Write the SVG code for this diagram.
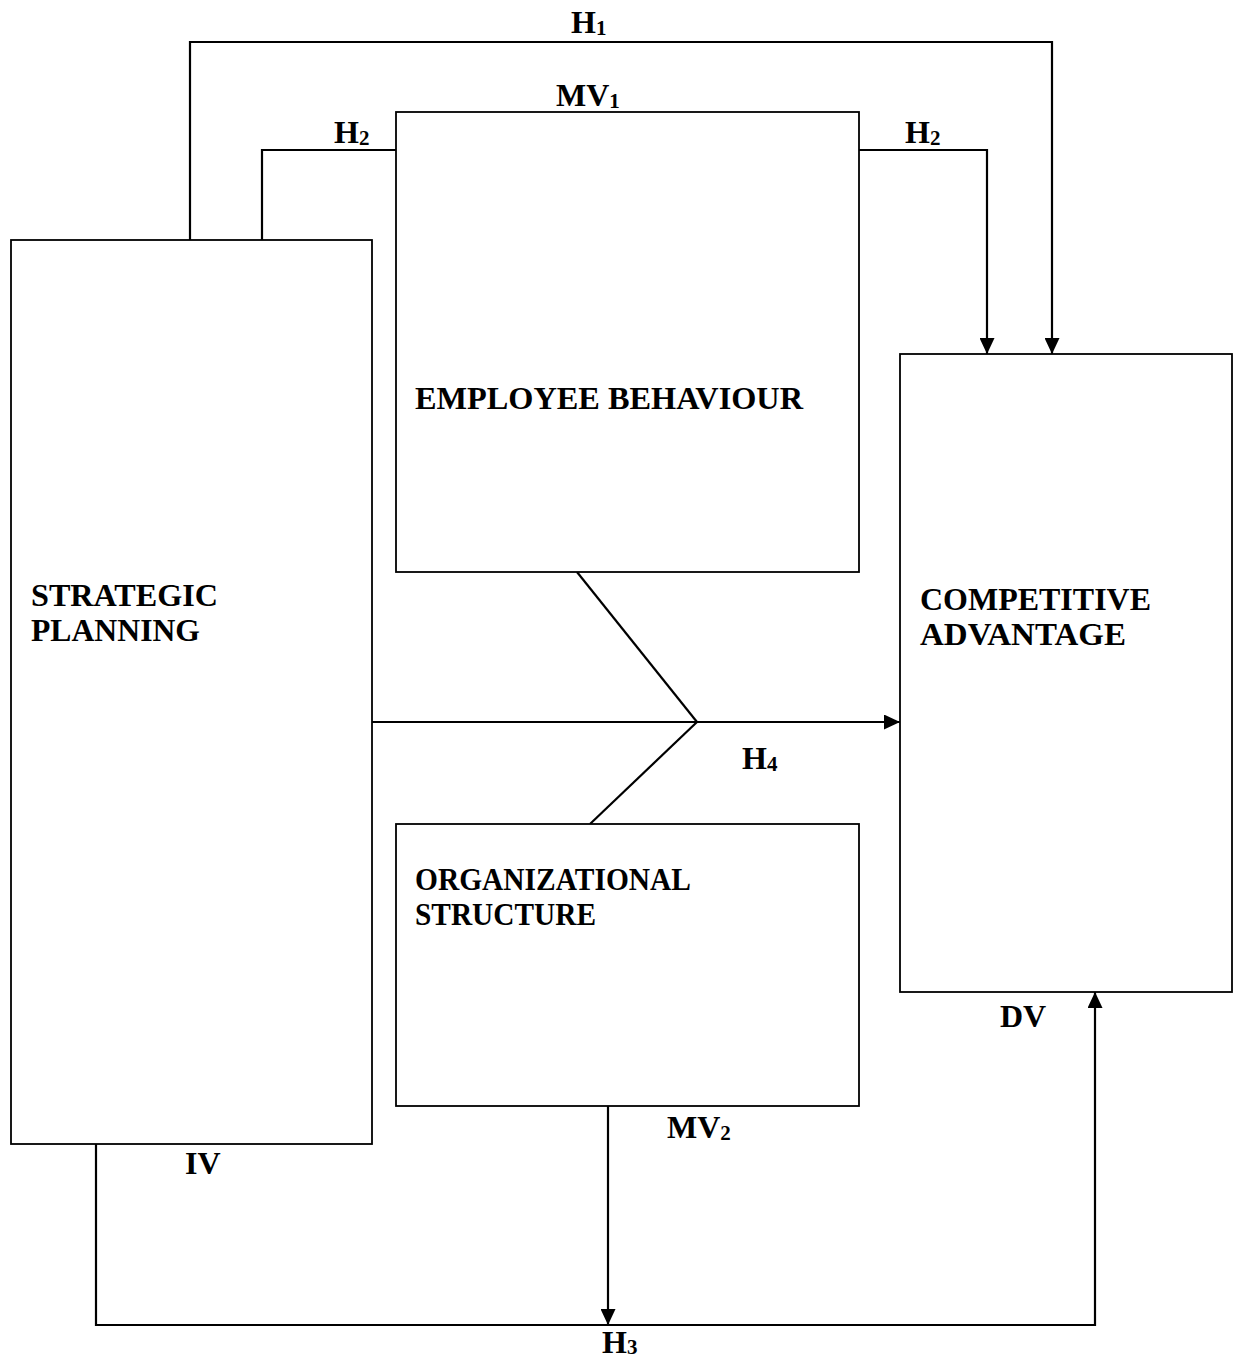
<svg xmlns="http://www.w3.org/2000/svg" width="1239" height="1360" viewBox="0 0 1239 1360">
<style>
.box{fill:#fff;stroke:#000;stroke-width:1.8}
.con{fill:none;stroke:#000;stroke-width:2.2}
text{font-family:"Liberation Serif","Times New Roman",serif;font-weight:bold;font-size:32px;fill:#000}
.sub{font-size:21px}
</style>
<defs>
<marker id="arr" markerUnits="userSpaceOnUse" markerWidth="16" markerHeight="15" refX="16" refY="7.5" orient="auto" viewBox="0 0 16 15">
<path d="M0,0 L16,7.5 L0,15 z" fill="#000"/>
</marker>
</defs>
<rect width="1239" height="1360" fill="#fff"/>
<g id="connectors">
<polyline class="con" points="190,240 190,42 1052,42 1052,354" marker-end="url(#arr)"/>
<polyline class="con" points="262,240 262,150 396,150"/>
<polyline class="con" points="859,150 987,150 987,354" marker-end="url(#arr)"/>
<line class="con" x1="372" y1="722" x2="900" y2="722" marker-end="url(#arr)"/>
<line class="con" x1="577" y1="572" x2="697" y2="722"/>
<line class="con" x1="697" y1="722" x2="590" y2="824"/>
<polyline class="con" points="96,1144 96,1325 1095,1325 1095,992" marker-end="url(#arr)"/>
<line class="con" x1="608" y1="1106" x2="608" y2="1325" marker-end="url(#arr)"/>
<text x="571" y="33">H<tspan class="sub" dy="2">1</tspan></text>
<text x="334" y="143">H<tspan class="sub" dy="2">2</tspan></text>
<text x="905" y="143">H<tspan class="sub" dy="2">2</tspan></text>
<text x="742" y="769">H<tspan class="sub" dy="2">4</tspan></text>
<text x="602" y="1353">H<tspan class="sub" dy="1">3</tspan></text>
</g>
<g id="strategic-planning">
<rect class="box" x="11" y="240" width="361" height="904"/>
<text x="31" y="606" textLength="187" lengthAdjust="spacingAndGlyphs">STRATEGIC</text>
<text x="31" y="641" textLength="169" lengthAdjust="spacingAndGlyphs">PLANNING</text>
<text x="185" y="1174">IV</text>
</g>
<g id="employee-behaviour">
<rect class="box" x="396" y="112" width="463" height="460"/>
<text x="415" y="409" textLength="388" lengthAdjust="spacingAndGlyphs">EMPLOYEE BEHAVIOUR</text>
<text x="556" y="106">MV<tspan class="sub" dy="2">1</tspan></text>
</g>
<g id="organizational-structure">
<rect class="box" x="396" y="824" width="463" height="282"/>
<text x="415" y="890" textLength="276" lengthAdjust="spacingAndGlyphs">ORGANIZATIONAL</text>
<text x="415" y="925" textLength="181" lengthAdjust="spacingAndGlyphs">STRUCTURE</text>
<text x="667" y="1138">MV<tspan class="sub" dy="2">2</tspan></text>
</g>
<g id="competitive-advantage">
<rect class="box" x="900" y="354" width="332" height="638"/>
<text x="920" y="610" textLength="231" lengthAdjust="spacingAndGlyphs">COMPETITIVE</text>
<text x="920" y="645" textLength="206" lengthAdjust="spacingAndGlyphs">ADVANTAGE</text>
<text x="1000" y="1027">DV</text>
</g>
</svg>
